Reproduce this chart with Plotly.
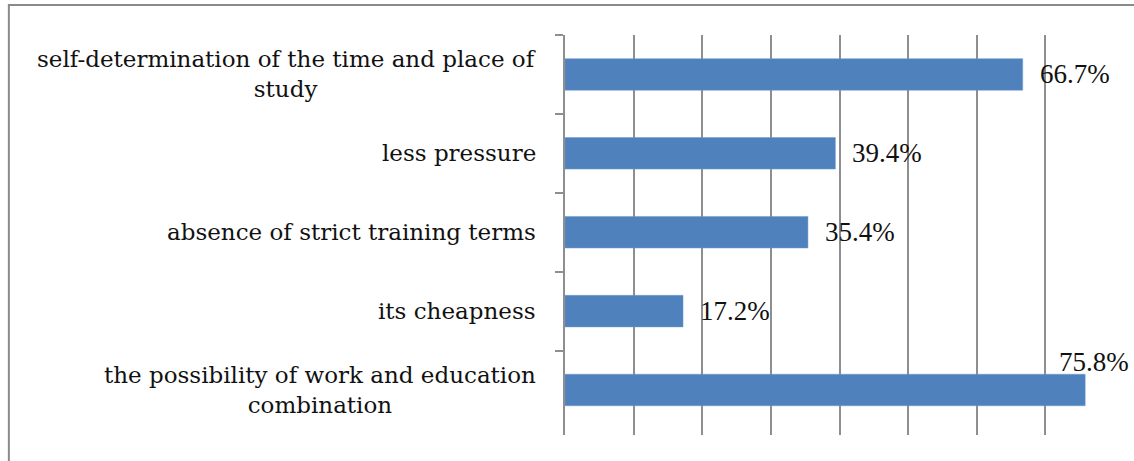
import plotly.graph_objects as go

categories = [
    "self-determination of the time and place of<br>study",
    "less pressure",
    "absence of strict training terms",
    "its cheapness",
    "the possibility of work and education<br>combination",
]
values = [0.667, 0.394, 0.354, 0.172, 0.758]
value_labels = ["66.7%", "39.4%", "35.4%", "17.2%", "75.8%"]

BAR_COLOR = "#4f81bd"
GRID = "#8e8e8e"

fig = go.Figure()
fig.add_trace(go.Bar(
    x=values, y=categories, orientation="h",
    marker=dict(color=BAR_COLOR, line=dict(color="#6f9ad0", width=0.5)),
    hoverinfo="skip",
))

# category labels: centered multi-line text, like the Office original
for cat in categories:
    fig.add_annotation(
        x=0, xref="paper", y=cat, yref="y",
        xanchor="right", xshift=-27, align="center",
        text=cat, showarrow=False,
        font=dict(family="DejaVu Serif", size=23, color="#111111"),
    )

# value labels at bar ends; the last one is pushed up/inside the frame
for i, (cat, val, lab) in enumerate(zip(categories, values, value_labels)):
    last = i == len(values) - 1
    fig.add_annotation(
        x=val, y=cat, xref="x", yref="y",
        xanchor="right" if last else "left",
        xshift=46 if last else 15,
        yshift=28 if last else 0,
        text=lab, showarrow=False,
        font=dict(family="Liberation Serif", size=27, color="#111111"),
    )

# outer frame of the chart object
fig.add_shape(type="rect", xref="paper", yref="paper",
              x0=-1.013, x1=1.05, y0=-0.12, y1=1.075,
              line=dict(color="#8a8a8a", width=2), fillcolor="rgba(0,0,0,0)")

fig.update_layout(
    width=1134, height=461,
    margin=dict(l=565, r=20, t=35, b=26),
    paper_bgcolor="white", plot_bgcolor="white",
    bargap=0.6, showlegend=False,
    xaxis=dict(range=[0, 0.8], dtick=0.1, showgrid=True, gridcolor=GRID, gridwidth=1.5,
               zeroline=False, showline=False, showticklabels=False, ticks=""),
    yaxis=dict(autorange="reversed", showticklabels=False, showgrid=False,
               showline=True, linecolor=GRID, linewidth=1.5,
               ticks="outside", ticklen=8, tickcolor=GRID, tickwidth=1.5,
               tickson="boundaries"),
)

# drop the browser's default 8px body margin so the figure sits at 0,0
fig.write_html("out.html", config={"displayModeBar": False},
               post_script="document.body.style.margin='0';")
